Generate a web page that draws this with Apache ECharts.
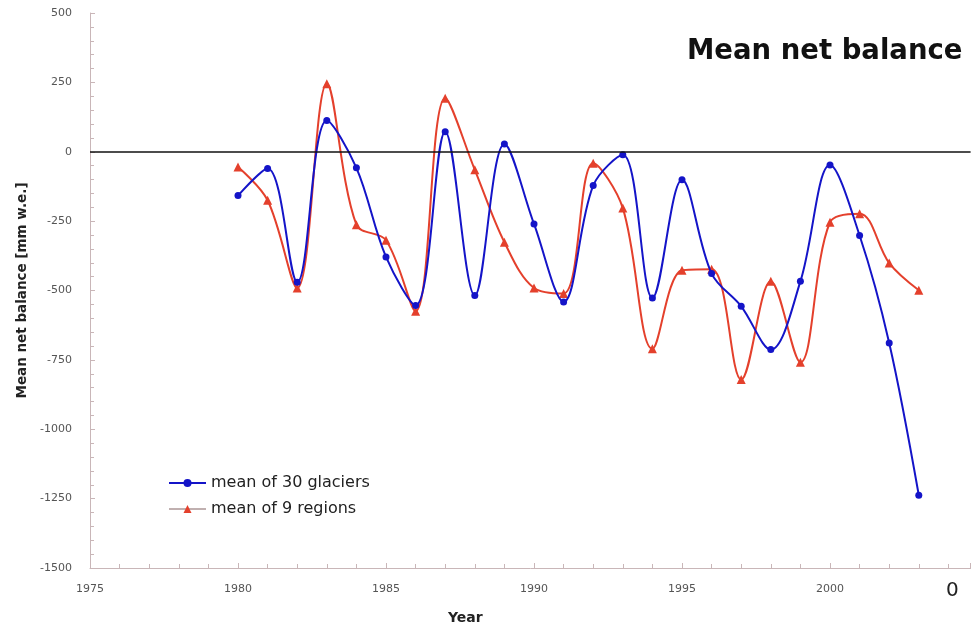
<!DOCTYPE html>
<html>
<head>
<meta charset="utf-8">
<script src="https://cdn.jsdelivr.net/npm/echarts@6/dist/echarts.min.js"></script>
<style>
html,body{margin:0;padding:0;background:#fff;}
#chart{width:973px;height:629px;}
</style>
</head>
<body>
<div id="chart"></div>
<script>
// data
var years = [1980, 1981, 1982, 1983, 1984, 1985, 1986, 1987, 1988, 1989, 1990, 1991,
	1992, 1993, 1994, 1995, 1996, 1997, 1998, 1999, 2000, 2001, 2002, 2003];
var glaciers30 = [-158, -60, -470, 113, -58, -379, -554, 72, -518, 28, -260, -541,
	-122, -11, -527, -101, -439, -557, -713, -467, -48, -302, -689, -1238];
var regions9 = [-55, -175, -491, 245, -263, -319, -575, 193, -65, -326, -491, -511,
	-41, -203, -710, -427, -423, -821, -467, -759, -254, -223, -401, -499];
var seriesNames = ["mean of 30 glaciers", "mean of 9 regions"];

var blue = "#1414c8";
var red = "#e4402c";
var axisCol = "#c9b6b8";
var fontName = "DejaVu Sans";

function pairs(vals) {
	var out = [];
	for (var i = 0; i < years.length; i++) {
		out.push([years[i], vals[i]]);
	}
	return out;
}

var myChart = echarts.init(document.getElementById('chart'), null, {renderer: 'canvas'});
var option = {
	backgroundColor: "#fff",
	animation: false,
	title: {
		text: "Mean net balance",
		left: 682,
		top: 33,
		textStyle: {fontFamily: fontName, fontWeight: "bold", fontSize: 27.5, color: "#111"}
	},
	grid: {left: 90, top: 13, right: 2.4, bottom: 61},
	legend: {
		orient: "vertical",
		left: 163,
		top: 470,
		itemWidth: 37,
		itemHeight: 10,
		itemGap: 10,
		textStyle: {fontFamily: fontName, fontSize: 16, color: "#222"},
		data: [
			{name: seriesNames[0], itemStyle: {color: blue}, lineStyle: {color: blue}},
			{name: seriesNames[1], itemStyle: {color: red}, lineStyle: {color: "#c0b0b0"}}
		]
	},
	xAxis: {
		type: "value",
		min: 1975,
		max: 2004.75,
		interval: 5,
		axisLine: {show: true, onZero: false, lineStyle: {color: axisCol, width: 1}},
		axisTick: {show: true, inside: true, length: 5, lineStyle: {color: axisCol}},
		minorTick: {show: true, splitNumber: 5, length: 4, lineStyle: {color: axisCol}},
		splitLine: {show: false},
		axisLabel: {
			fontFamily: fontName, fontSize: 11, color: "#555", margin: 16,
			showMaxLabel: false,
			formatter: function (v) { return String(v); }
		}
	},
	yAxis: {
		type: "value",
		min: -1500,
		max: 500,
		interval: 250,
		name: "Mean net balance [mm w.e.]",
		nameLocation: "middle",
		nameGap: 60,
		nameTextStyle: {fontFamily: fontName, fontWeight: "bold", fontSize: 13.5, color: "#222"},
		axisLine: {show: true, lineStyle: {color: axisCol, width: 1}},
		axisTick: {show: true, inside: true, length: 5, lineStyle: {color: axisCol}},
		minorTick: {show: true, splitNumber: 5, length: 4, lineStyle: {color: axisCol}},
		splitLine: {show: false},
		axisLabel: {
			fontFamily: fontName, fontSize: 11, color: "#555", margin: 18,
			formatter: function (v) { return String(v); }
		}
	},
	series: [
		{
			name: seriesNames[0],
			type: "line",
			smooth: 0.35,
			data: pairs(glaciers30),
			symbol: "circle",
			symbolSize: 7,
			itemStyle: {color: blue},
			lineStyle: {color: blue, width: 2},
			z: 3,
			markLine: {
				silent: true,
				symbol: "none",
				label: {show: false},
				lineStyle: {color: "#111", width: 1.5, type: "solid"},
				data: [{yAxis: 0}]
			}
		},
		{
			name: seriesNames[1],
			type: "line",
			smooth: 0.35,
			data: pairs(regions9),
			symbol: "triangle",
			symbolSize: 9,
			itemStyle: {color: red},
			lineStyle: {color: red, width: 2},
			z: 2
		}
	],
	graphic: [
		{
			type: "text",
			left: 448,
			top: 611,
			style: {text: "Year", font: "bold 14px " + fontName, fill: "#222"}
		},
		{
			type: "text",
			left: 946,
			top: 581,
			style: {text: "0", font: "20px " + fontName, fill: "#222"}
		}
	]
};
myChart.setOption(option);
</script>
</body>
</html>
